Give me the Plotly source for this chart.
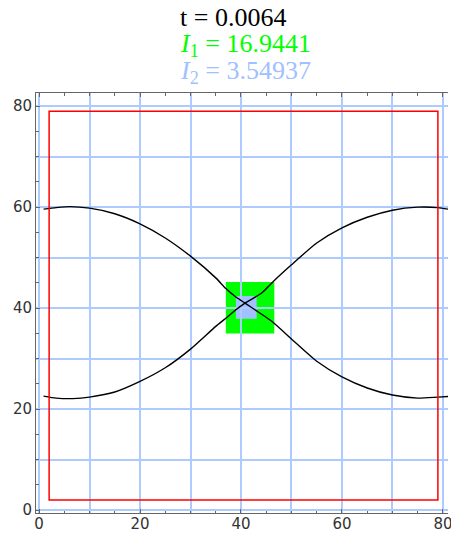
import plotly.graph_objects as go

# Two boundary curves (x, y) in domain units
curve_a_x = [0.9, 3.4, 6.1, 10, 15, 20, 25, 30, 35, 37, 39, 40.8, 43.8, 46.1, 50, 55, 60, 65, 70, 75, 79, 81]
curve_a_y = [59.6, 59.9, 60.1, 59.8, 58.7, 56.7, 53.9, 50.3, 46.0, 43.9, 42.2, 41.0, 39.0, 37.4, 33.9, 29.5, 26.4, 24.2, 22.8, 22.2, 22.4, 22.5]

curve_b_x = [0.9, 3.4, 6.7, 10, 15, 20, 25, 30, 35, 37, 39, 40.8, 44.1, 46.4, 50, 55, 60, 65, 70, 75, 79, 81]
curve_b_y = [22.6, 22.2, 22.1, 22.4, 23.4, 25.5, 28.2, 31.9, 36.4, 38.0, 39.7, 41.0, 43.0, 45.3, 48.6, 52.9, 55.9, 58.0, 59.4, 60.0, 59.9, 59.6]

# Regions: outer box, region I1 and region I2 as [x0, x1, y0, y1]
box_bounds = [2, 79, 2, 79]
region1_bounds = [37.0, 46.6, 35.0, 45.2]
region2_bounds = [39.0, 43.1, 37.9, 42.4]

t_value = "0.0064"
i1_value = "16.9441"
i2_value = "3.54937"

label_step = 20   # labelled ticks
grid_step = 10    # grid spacing
minor_step = 5    # small ticks

GREEN = "#00FF00"
LIGHTBLUE = "#A0C0FF"
GRID = "#AECBFF"
AXIS = "#666666"

fig = go.Figure()
for cx, cy in ((curve_a_x, curve_a_y), (curve_b_x, curve_b_y)):
    fig.add_trace(go.Scatter(
        x=cx, y=cy, mode="lines",
        line=dict(color="black", width=1.4, shape="spline", smoothing=0.6),
        hoverinfo="skip", showlegend=False,
    ))

# anchor trace for the overlaid grid axes
fig.add_trace(go.Scatter(x=[box_bounds[0]], y=[box_bounds[2]], xaxis="x2", yaxis="y2",
                         mode="markers", marker=dict(opacity=0), hoverinfo="skip",
                         showlegend=False))

def rect(b, **kw):
    return dict(type="rect", xref="x", yref="y",
                x0=b[0], x1=b[1], y0=b[2], y1=b[3], **kw)

fig.add_shape(**rect(region1_bounds, fillcolor=GREEN, line=dict(width=0), layer="below"))
fig.add_shape(**rect(region2_bounds, fillcolor=LIGHTBLUE, line=dict(width=0), layer="below"))
fig.add_shape(**rect(box_bounds, fillcolor="rgba(0,0,0,0)", line=dict(color="#FF0000", width=1.5), layer="above"))

tick_font = dict(family="DejaVu Sans", size=15, color="#333333")
label_axis = dict(
    tick0=0, dtick=label_step, showgrid=False, zeroline=False,
    showline=True, linecolor=AXIS, linewidth=1, automargin=False,
    ticks="inside", ticklen=4, tickcolor=AXIS, tickwidth=1,
    tickfont=tick_font, ticklabeloverflow="allow",
    minor=dict(dtick=minor_step, tick0=0, ticks="inside", ticklen=2.5,
               tickcolor=AXIS, showgrid=False),
)
grid_axis = dict(
    tick0=0, dtick=grid_step, showgrid=True, gridcolor=GRID, gridwidth=1.5,
    zeroline=False, showline=False, ticks="", showticklabels=False, automargin=False,
)

x_range = [-0.6, 81.0]
y_range = [-0.55, 82.6]

fig.update_layout(
    xaxis=dict(range=x_range, mirror="ticks", ticklabelstandoff=-3, **label_axis),
    yaxis=dict(range=y_range, mirror=False, **label_axis),
    xaxis2=dict(range=x_range, overlaying="x", matches="x", side="bottom", anchor="y2", **grid_axis),
    yaxis2=dict(range=y_range, overlaying="y", matches="y", side="left", anchor="x2", **grid_axis),
)

title_font = "Liberation Serif"
lines = [
    (f"t = {t_value}", "black", 17.5),
    (f"<i>I</i><sub>1</sub> = {i1_value}", GREEN, 45.0),
    (f"<i>I</i><sub>2</sub> = {i2_value}", LIGHTBLUE, 72.0),
]
plot_top, plot_bottom, plot_left, plot_w = 93, 513, 36, 412
for text, color, py in lines:
    fig.add_annotation(
        text=text, xref="paper", yref="paper",
        x=(178 - plot_left) / plot_w, y=(plot_bottom - py) / (plot_bottom - plot_top),
        xanchor="left", yanchor="middle", showarrow=False,
        font=dict(family=title_font, size=26, color=color),
    )

fig.update_layout(
    width=451, height=535,
    margin=dict(l=36, r=3, t=93, b=22, pad=0, autoexpand=False),
    plot_bgcolor="white", paper_bgcolor="white",
    showlegend=False,
)

fig.write_html("out.html")
